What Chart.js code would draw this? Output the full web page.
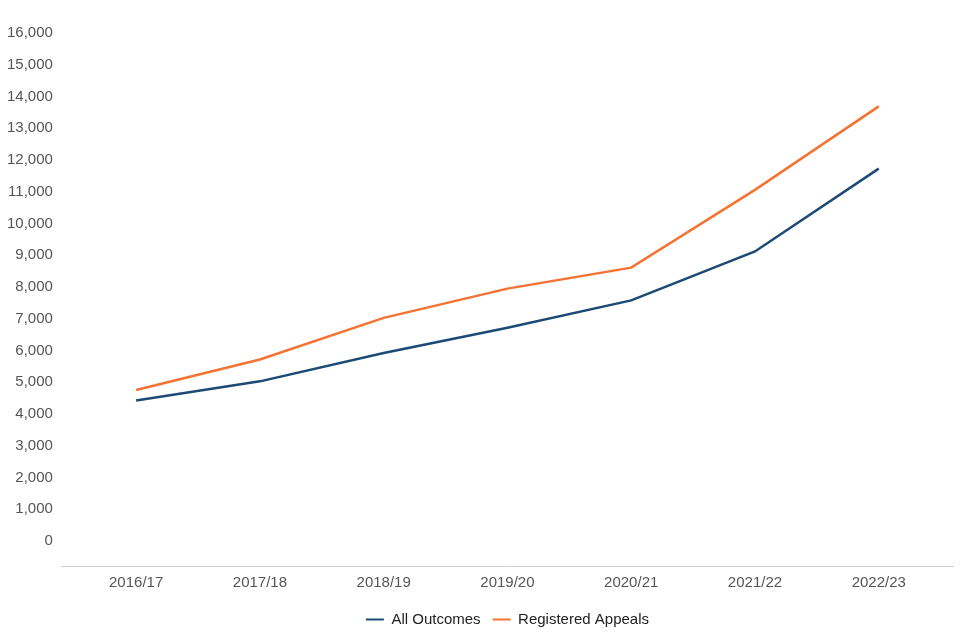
<!DOCTYPE html>
<html>
<head>
<meta charset="utf-8">
<script src="https://cdn.jsdelivr.net/npm/chart.js@4"></script>
<style>
  html,body{margin:0;padding:0;background:#fff;}
  #wrap{width:960px;height:640px;}
</style>
</head>
<body>
<div id="wrap"><canvas id="chart" width="960" height="640"></canvas></div>
<script>
const years = ["2016/17","2017/18","2018/19","2019/20","2020/21","2021/22","2022/23"];
const allOutcomes = [4430,5030,5920,6720,7580,9120,11730];
const registeredAppeals = [4760,5720,7030,7950,8610,11060,13690];
const yTicks = [0,1000,2000,3000,4000,5000,6000,7000,8000,9000,10000,11000,12000,13000,14000,15000,16000];

const toPoints = arr => arr.map((v,i)=>({x:i,y:v}));

new Chart(document.getElementById("chart"),{
  type: "line",
  data: {
    datasets: [
      {
        label: "All Outcomes",
        data: toPoints(allOutcomes),
        borderColor: "#1b4a75",
        backgroundColor: "#1b4a75",
        borderWidth: 2.5,
        pointRadius: 0,
        tension: 0
      },
      {
        label: "Registered Appeals",
        data: toPoints(registeredAppeals),
        borderColor: "#f47331",
        backgroundColor: "#f47331",
        borderWidth: 2.5,
        pointRadius: 0,
        tension: 0
      }
    ]
  },
  options: {
    responsive: false,
    animation: false,
    layout: {padding: {left: -2, right: 7, top: 33, bottom: 3}},
    plugins: {
      legend: {
        position: "bottom",
        fullSize: false,
        labels: {
          boxWidth: 18,
          boxHeight: 2,
          color: "#222",
          padding: 12,
          font: {family: "Liberation Sans, Arial, sans-serif", size: 15},
          generateLabels: chart => Chart.defaults.plugins.legend.labels.generateLabels(chart)
            .map(item => ({...item, lineWidth: 0}))
        }
      },
      tooltip: {enabled: false}
    },
    scales: {
      x: {
        type: "linear",
        min: -0.6,
        max: 6.6,
        afterBuildTicks: scale => { scale.ticks = years.map((y,i)=>({value:i})); },
        grid: {color: "transparent", drawTicks: false},
        border: {display: true, color: "#d0d0d0", width: 1},
        ticks: {
          color: "#555",
          padding: 8,
          maxRotation: 0,
          font: {family: "Liberation Sans, Arial, sans-serif", size: 15},
          callback: value => years[value]
        }
      },
      y: {
        min: -785,
        max: 16000,
        afterBuildTicks: scale => { scale.ticks = yTicks.map(v=>({value:v})); },
        grid: {display: false, drawTicks: false},
        border: {display: false},
        ticks: {
          color: "#555",
          padding: 9,
          font: {family: "Liberation Sans, Arial, sans-serif", size: 15},
          callback: value => value.toLocaleString("en-US")
        }
      }
    }
  }
});
</script>
</body>
</html>
